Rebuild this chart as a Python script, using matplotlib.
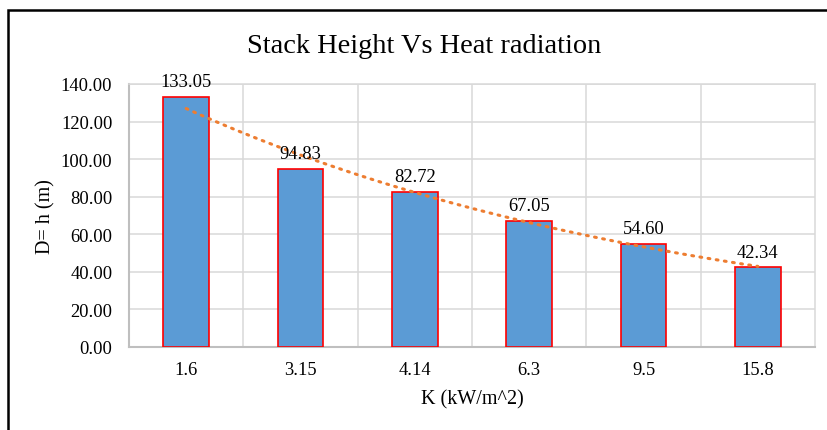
import matplotlib

matplotlib.use("Agg")
import matplotlib.pyplot as plt
import numpy as np
from matplotlib.patches import Rectangle

plt.rcParams["font.family"] = ["Liberation Serif", "DejaVu Serif"]

# heat radiation levels (category labels) and the stack height for each
k_labels = ["1.6", "3.15", "4.14", "6.3", "9.5", "15.8"]
heights = [133.05, 94.83, 82.72, 67.05, 54.60, 42.34]

BAR = "#5B9BD5"
EDGE = "#FF0000"
TREND = "#ED7D31"
GRID = "#D9D9D9"
AXIS = "#BFBFBF"

fig = plt.figure(figsize=(8.28, 4.31), dpi=100)
ax = fig.add_axes([0.1558, 0.1926, 0.8285, 0.6102])

x = np.arange(len(k_labels))
bars = ax.bar(x, heights, width=0.4, color=BAR, edgecolor=EDGE, linewidth=1.2, zorder=3)
for xi, h in zip(x, heights):
    ax.annotate(f"{h:.2f}", (xi, h), xytext=(0, 5), textcoords="offset points",
                ha="center", va="bottom", fontsize=13.3, zorder=5, annotation_clip=False)

# exponential trendline fitted on category index (1..n), as a spreadsheet does
idx = x + 1
b, a = np.polyfit(idx, np.log(heights), 1)
xs = np.linspace(1, len(k_labels), 100)
ax.plot(xs - 1, np.exp(a + b * xs), color=TREND, lw=2.2, ls=(0, (0.6, 2.1)),
        dash_capstyle="round", zorder=4)

ax.set_xlim(-0.5, len(k_labels) - 0.5)
ax.set_ylim(0, 140)
ax.set_yticks(np.arange(0, 141, 20))
ax.set_yticklabels([f"{v:.2f}" for v in np.arange(0, 141, 20)])
ax.set_xticks(x)
ax.set_xticklabels(k_labels)
ax.tick_params(axis="both", length=0, labelsize=13.3)
ax.tick_params(axis="y", pad=12)
ax.tick_params(axis="x", pad=10)

ax.grid(axis="y", color=GRID, lw=1.1, zorder=0)
for bx in np.arange(0.5, len(k_labels) - 0.5):
    ax.axvline(bx, color=GRID, lw=1.1, zorder=0)

for side in ("left", "bottom"):
    ax.spines[side].set_color(AXIS)
    ax.spines[side].set_linewidth(1.5)
ax.spines["right"].set_color(GRID)
ax.spines["right"].set_linewidth(1.1)
ax.spines["top"].set_color(GRID)
ax.spines["top"].set_linewidth(1.1)

ax.set_xlabel("K (kW/m^2)", fontsize=14.5, labelpad=8)
ax.set_ylabel("D= h (m)", fontsize=14.5, labelpad=3.5)
fig.text(0.512, 0.892, "Stack Height Vs Heat radiation", ha="center", va="center",
         fontsize=20.4)

# chart border, running off the right and bottom edges
fig.patches.append(Rectangle((8 / 828, -0.1), 1.2, 1 - 11 / 431 + 0.1,
                             transform=fig.transFigure, fill=False,
                             edgecolor="black", lw=1.8))

fig.savefig("out.png", dpi=100)
